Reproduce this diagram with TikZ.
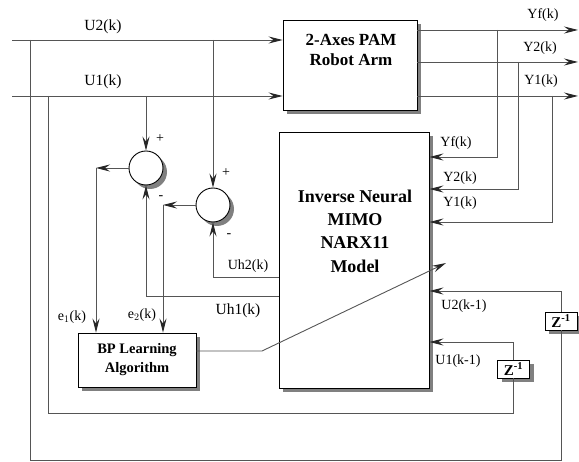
\documentclass[tikz,border=0pt]{standalone}
\usepackage{fontspec}
\setmainfont{Liberation Serif}
\usetikzlibrary{arrows.meta,shadows}
\definecolor{linegray}{RGB}{85,85,85}
\definecolor{shadowgray}{RGB}{128,128,128}
\begin{document}
\begin{tikzpicture}[x=1pt,y=-1pt,
  line/.style={draw=linegray, line width=0.9pt},
  arr/.style={line, -{Stealth[length=14pt,width=7pt,inset=5pt,color=black!85]}},
  blk/.style={draw=black, fill=white, line width=0.9pt, inner sep=0pt,
    drop shadow={shadow xshift=4pt, shadow yshift=-4pt, fill=shadowgray, opacity=1}},
  sumnode/.style={blk, circle, minimum size=34pt},
  lblbig/.style={font=\fontsize{15.5}{18}\selectfont, inner sep=0pt},
  lbl/.style={font=\fontsize{14}{16}\selectfont, inner sep=0pt},
  sign/.style={font=\fontsize{14}{16}\selectfont, inner sep=0pt},
  zbox/.style={blk, minimum width=32pt, minimum height=18pt, font=\fontsize{15}{16}\selectfont\bfseries}
]
\useasboundingbox (0,0) rectangle (579,462);

% blocks
\node[blk, minimum width=134pt, minimum height=90pt] (robot) at (350,65) {};
\node[font=\fontsize{17}{20}\selectfont\bfseries, align=center, inner sep=0pt] (robottxt) at (351,50) {2-Axes PAM\\Robot Arm};
\node[blk, minimum width=150pt, minimum height=256pt] (inv) at (354,260) {};
\node[font=\fontsize{18}{23.3}\selectfont\bfseries, align=center, inner sep=0pt] (invtxt) at (355,231) {Inverse Neural\\MIMO\\NARX11\\Model};
\node[blk, minimum width=118pt, minimum height=54pt, font=\fontsize{14.5}{19}\selectfont\bfseries, align=center] (bp) at (137,360) {BP Learning\\Algorithm};
\node[sumnode] (sum1) at (146,168) {};
\node[sumnode] (sum2) at (213,205) {};
\node[zbox] (z2) at (561,321) {Z\textsuperscript{-1}};
\node[zbox] (z1) at (513.5,369) {Z\textsuperscript{-1}};

% coordinates
\coordinate (u2in) at (12,40);
\coordinate (u1in) at (12,96);
\coordinate (u2a) at (30,40);
\coordinate (u2b) at (30,460);
\coordinate (u2c) at (561,460);
\coordinate (u2d) at (561,291);
\coordinate (u1a) at (48,96);
\coordinate (u1b) at (48,413);
\coordinate (u1c) at (513.5,413);
\coordinate (u1d) at (513.5,342);
\coordinate (s1in) at (146,96);
\coordinate (s2in) at (213,40);
\coordinate (e1c) at (96,168);
\coordinate (e2c) at (163,205);
\coordinate (uh2a) at (279,277);
\coordinate (uh2b) at (213,277);
\coordinate (uh1a) at (279,296);
\coordinate (uh1b) at (146,296);
\coordinate (yfo) at (578,30);
\coordinate (y2o) at (578,62);
\coordinate (y1o) at (578,96);
\coordinate (yfa) at (497,30);
\coordinate (yfb) at (497,157);
\coordinate (y2a) at (518,62);
\coordinate (y2b) at (518,189);
\coordinate (y1a) at (552,96);
\coordinate (y1b) at (552,222);
\coordinate (bpk) at (262,351);
\coordinate (bpt) at (446,263);

% inputs
\draw[arr] (u2in) -- (u2in -| robot.west);
\draw[arr] (u1in) -- (u1in -| robot.west);
% outputs
\draw[arr] (yfo -| robot.east) -- (yfo);
\draw[arr] (y2o -| robot.east) -- (y2o);
\draw[arr] (y1o -| robot.east) -- (y1o);
\draw[arr] (yfa) -- (yfb) -- (yfb -| inv.east);
\draw[arr] (y2a) -- (y2b) -- (y2b -| inv.east);
\draw[arr] (y1a) -- (y1b) -- (y1b -| inv.east);
% delayed feedback
\draw[line] (u2a) -- (u2b) -- (u2c) -- (z2.south);
\draw[arr] (z2.north) -- (u2d) -- (u2d -| inv.east);
\draw[line] (u1a) -- (u1b) -- (u1c) -- (z1.south);
\draw[arr] (z1.north) -- (u1d) -- (u1d -| inv.east);
% summing junctions
\draw[arr] (s1in) -- (sum1.north);
\draw[arr] (s2in) -- (sum2.north);
\draw[arr] (uh2a) -- (uh2b) -- (sum2.south);
\draw[arr] (uh1a) -- (uh1b) -- (sum1.south);
\draw[arr] (sum1.west) -- (e1c);
\draw[arr] (e1c) -- (e1c |- bp.north);
\draw[arr] (sum2.west) -- (e2c);
\draw[arr] (e2c) -- (e2c |- bp.north);
% learning signal
\draw[arr] (bp.east |- bpk) -- (bpk) -- (bpt);

% labels
\node[lblbig] (lu2) at (103,27) {U2(k)};
\node[lblbig] (lu1) at (103,82) {U1(k)};
\node[lbl] (lyf) at (543,15) {Yf(k)};
\node[lbl] (ly2) at (540,48) {Y2(k)};
\node[lbl] (ly1) at (541,81) {Y1(k)};
\node[lbl] (lyfi) at (456,143) {Yf(k)};
\node[lbl] (ly2i) at (460,178) {Y2(k)};
\node[lbl] (ly1i) at (460,203) {Y1(k)};
\node[lbl] (lu2i) at (464,306) {U2(k-1)};
\node[lbl] (lu1i) at (458,361) {U1(k-1)};
\node[lbl] (luh2) at (248,266) {Uh2(k)};
\node[lblbig] (luh1) at (238,311) {Uh1(k)};
\node[lbl] (le1) at (72,317) {e$_1$(k)};
\node[lbl] (le2) at (142,315) {e$_2$(k)};
\node[sign] (p1) at (160,139) {+};
\node[sign] (m1) at (161,198) {-};
\node[sign] (p2) at (226,173) {+};
\node[sign] (m2) at (229,236) {-};
\end{tikzpicture}
\end{document}
